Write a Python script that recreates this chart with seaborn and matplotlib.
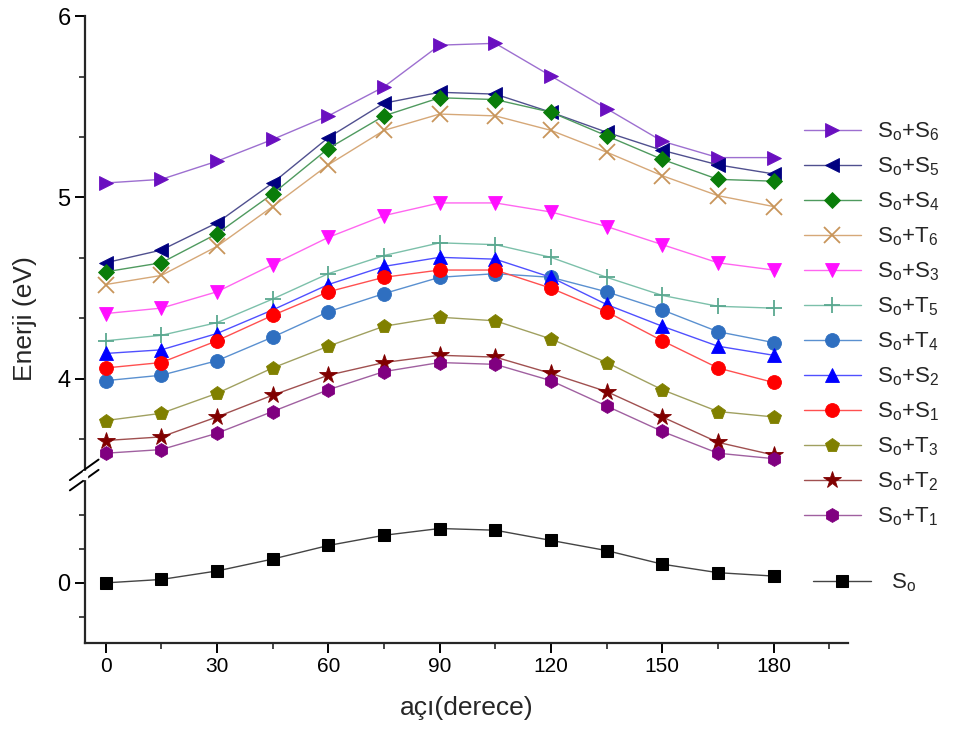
import numpy as np
import pandas as pd
import matplotlib
matplotlib.use("Agg")
import matplotlib.pyplot as plt
import seaborn as sns

# data (eV)
aci = [0, 15, 30, 45, 60, 75, 90, 105, 120, 135, 150, 165, 180]

s0_s6 = [5.08, 5.10, 5.20, 5.32, 5.45, 5.61, 5.84, 5.85, 5.67, 5.49, 5.31, 5.22, 5.22]
s0_s5 = [4.64, 4.71, 4.86, 5.08, 5.33, 5.52, 5.58, 5.57, 5.47, 5.36, 5.26, 5.18, 5.13]
s0_s4 = [4.59, 4.64, 4.80, 5.02, 5.27, 5.45, 5.55, 5.54, 5.47, 5.34, 5.21, 5.10, 5.09]
s0_t6 = [4.52, 4.57, 4.73, 4.95, 5.18, 5.37, 5.46, 5.45, 5.37, 5.25, 5.12, 5.01, 4.95]
s0_s3 = [4.36, 4.39, 4.48, 4.63, 4.78, 4.90, 4.97, 4.97, 4.92, 4.84, 4.74, 4.64, 4.60]
s0_t5 = [4.21, 4.24, 4.31, 4.44, 4.58, 4.68, 4.75, 4.74, 4.67, 4.56, 4.46, 4.40, 4.39]
s0_t4 = [3.99, 4.02, 4.10, 4.23, 4.37, 4.47, 4.56, 4.58, 4.56, 4.48, 4.38, 4.26, 4.20]
s0_s2 = [4.14, 4.16, 4.25, 4.38, 4.52, 4.62, 4.67, 4.66, 4.56, 4.41, 4.29, 4.18, 4.13]
s0_s1 = [4.06, 4.09, 4.21, 4.35, 4.48, 4.56, 4.60, 4.60, 4.50, 4.37, 4.21, 4.06, 3.98]
s0_t3 = [3.77, 3.81, 3.92, 4.06, 4.18, 4.29, 4.34, 4.32, 4.22, 4.09, 3.94, 3.82, 3.79]
s0_t2 = [3.66, 3.68, 3.79, 3.91, 4.02, 4.09, 4.13, 4.12, 4.03, 3.93, 3.79, 3.65, 3.58]
s0_t1 = [3.59, 3.61, 3.70, 3.82, 3.94, 4.04, 4.09, 4.08, 3.99, 3.85, 3.71, 3.59, 3.56]
s0 = [0.00, 0.02, 0.07, 0.14, 0.22, 0.28, 0.32, 0.31, 0.25, 0.19, 0.11, 0.06, 0.04]

etiketler = [r"S$_\mathrm{o}$+S$_6$", r"S$_\mathrm{o}$+S$_5$", r"S$_\mathrm{o}$+S$_4$",
             r"S$_\mathrm{o}$+T$_6$", r"S$_\mathrm{o}$+S$_3$", r"S$_\mathrm{o}$+T$_5$",
             r"S$_\mathrm{o}$+T$_4$", r"S$_\mathrm{o}$+S$_2$", r"S$_\mathrm{o}$+S$_1$",
             r"S$_\mathrm{o}$+T$_3$", r"S$_\mathrm{o}$+T$_2$", r"S$_\mathrm{o}$+T$_1$"]
seriler = [s0_s6, s0_s5, s0_s4, s0_t6, s0_s3, s0_t5, s0_t4, s0_s2, s0_s1, s0_t3, s0_t2, s0_t1]

# (marker color, line color, marker)
stiller = [
    ("#6a0fc0", "#9d6fd0", ">"),
    ("#000080", "#50508f", "<"),
    ("#0a7d0a", "#4f9a5f", "D"),
    ("#c8955a", "#d6a878", "x"),
    ("#ff10ff", "#ff66f0", "v"),
    ("#5aa890", "#7cc0aa", "+"),
    ("#2f6fc0", "#5a90d0", "o"),
    ("#0000ff", "#5050ff", "^"),
    ("#ff0000", "#ff5050", "o"),
    ("#808000", "#a0a060", "p"),
    ("#800000", "#a05050", "*"),
    ("#800080", "#a060a0", "h"),
]

sns.set_style("ticks")
plt.rcParams["font.family"] = ["Liberation Sans", "DejaVu Sans"]
plt.rcParams["mathtext.fontset"] = "custom"
plt.rcParams["mathtext.rm"] = "Liberation Sans"
plt.rcParams["mathtext.it"] = "Liberation Sans"

fig = plt.figure(figsize=(9.57, 7.33), dpi=100)
L, R = 0.089, 0.886
ust = fig.add_axes([L, 0.352, R - L, 0.978 - 0.352])
alt = fig.add_axes([L, 0.123, R - L, 0.352 - 0.123], sharex=ust)

handles = []
for veri, lbl, (mc, lc, mk) in zip(seriler, etiketler, stiller):
    ms = 10
    if mk == "D":
        ms = 8.5
    if mk == "*":
        ms = 13
    if mk in "x+":
        ms = 12
    sns.lineplot(x=aci, y=veri, ax=ust, color=lc, lw=1.0, marker=mk,
                 markersize=ms, markerfacecolor=mc, markeredgecolor=mc,
                 markeredgewidth=1.3 if mk in "x+" else 0.6, label=lbl, legend=False)
    handles.append(ust.lines[-1])

sns.lineplot(x=aci, y=s0, ax=alt, color="#444444", lw=1.0, marker="s", markersize=9,
             markerfacecolor="black", markeredgecolor="black", label=r"S$_\mathrm{o}$",
             legend=False)
h0 = alt.lines[-1]

ust.set_ylim(3.47, 6.0)
alt.set_ylim(-0.353, 0.635)
ust.set_xlim(-5.5, 200)

ust.set_yticks([4, 5, 6])
ust.set_yticks([11 / 3, 13 / 3, 14 / 3, 16 / 3, 17 / 3], minor=True)
alt.set_yticks([0])
alt.set_yticks([-0.2, 0.2, 0.4], minor=True)
alt.set_xticks(range(0, 181, 30))
alt.set_xticks(range(15, 200, 30), minor=True)

for a in (ust, alt):
    for s in ("top", "right"):
        a.spines[s].set_visible(False)
    a.spines["left"].set_linewidth(1.6)
    a.tick_params(axis="both", which="major", direction="out", length=7, width=1.4,
                  labelsize=15, colors="black")
    a.tick_params(axis="y", which="major", labelsize=17)
    a.tick_params(axis="both", which="minor", direction="out", length=4, width=1.2)
ust.spines["bottom"].set_visible(False)
ust.tick_params(axis="x", which="both", bottom=False, labelbottom=False)
alt.spines["bottom"].set_linewidth(1.6)
alt.set_xlabel("açı(derece)", fontsize=19, labelpad=14)
ust.set_ylabel("")
alt.set_ylabel("")
fig.text(0.026, 0.566, "Enerji (eV)", rotation=90, fontsize=19, va="center", ha="center")

# kirik eksen isareti
for dy in (-0.007, 0.007):
    fig.add_artist(plt.Line2D([L - 0.016, L + 0.014], [0.352 + dy - 0.014, 0.352 + dy + 0.014],
                              color="black", lw=1.4))
fig.add_artist(plt.Rectangle((L - 0.002, 0.347), 0.004, 0.010, color="white", zorder=5))

fig.legend(handles=handles, labels=etiketler, loc="upper left",
           bbox_to_anchor=(0.828, 0.851), frameon=False, fontsize=16,
           handlelength=2.6, handletextpad=0.7, labelspacing=0.56, borderpad=0)
fig.legend(handles=[h0], labels=[r"S$_\mathrm{o}$"], loc="upper left",
           bbox_to_anchor=(0.838, 0.235), frameon=False, fontsize=16,
           handlelength=2.6, handletextpad=0.9, borderpad=0)

fig.savefig("out.png", dpi=100)
